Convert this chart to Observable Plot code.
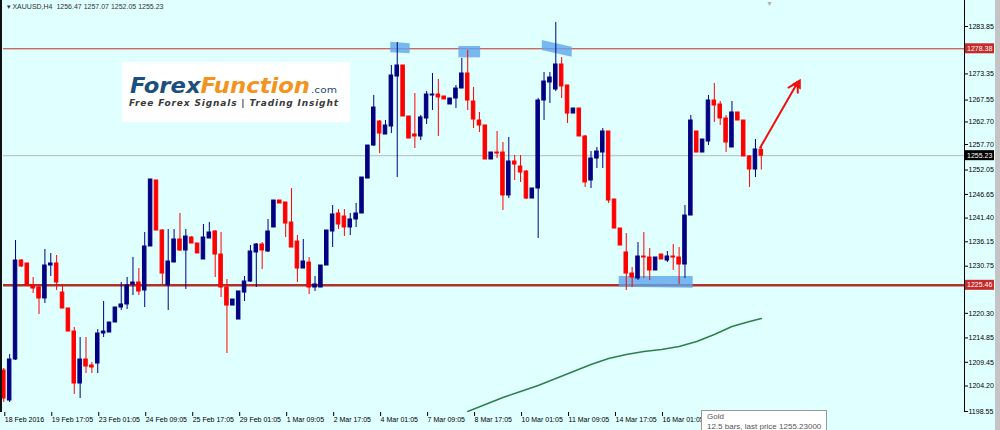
<!DOCTYPE html>
<html><head><meta charset="utf-8">
<script src="https://cdn.jsdelivr.net/npm/d3@7"></script>
<script src="https://cdn.jsdelivr.net/npm/@observablehq/plot@0.6"></script>
<style>
html,body{margin:0;padding:0;background:#e0ffff;}
#wrap{position:relative;width:1000px;height:430px;background:#e0ffff;overflow:hidden;font-family:"Liberation Sans",Arial,sans-serif;}
#chart svg{display:block;}
.leftbar{position:absolute;left:0;top:0;width:2px;height:412px;background:#111;}
.rightstrip{position:absolute;right:0;top:0;width:5px;height:430px;background:#c4c4c4;}
.shift{position:absolute;left:766px;top:0px;font-size:7px;line-height:8px;color:#b0b0b0;}
.logo{position:absolute;left:122px;top:62px;width:228px;height:60px;background:#fff;}
.tip{position:absolute;left:701px;top:410px;width:126px;height:30px;background:#fff;border:1px solid #9a9a9a;font-size:8px;line-height:10px;color:#555;padding:1px 5px;box-sizing:border-box;white-space:nowrap;}
</style>
</head><body>
<div id="wrap">
  <div id="chart"></div>
  <div class="leftbar"></div>
  <div class="rightstrip"></div>
  <div class="shift">▼</div>
  <div class="logo">
    <svg width="228" height="60">
      <text x="8" y="31" font-family="DejaVu Sans" font-weight="bold" font-style="italic" font-size="22" textLength="180" lengthAdjust="spacingAndGlyphs"><tspan fill="#1d4f7c">Forex</tspan><tspan fill="#f39320">Function</tspan></text>
      <text x="189" y="31" font-family="DejaVu Sans" font-size="9" fill="#1d4f7c" textLength="26" lengthAdjust="spacingAndGlyphs">.com</text>
      <text x="7" y="44" font-family="DejaVu Sans" font-weight="bold" font-style="italic" font-size="9" fill="#3a3a3a" textLength="209" lengthAdjust="spacing">Free Forex Signals | Trading Insight</text>
    </svg>
  </div>
  <div class="tip">Gold<br>12.5 bars, last price 1255.23000</div>
</div>
<script>
// ---- XAUUSD H4 candles (price values) ----
const open = [
1207.63,1200.99,1210.07,1232.00,1231.34,1226.47,1226.02,1223.59,1230.90,1231.34,
1224.91,1221.37,1216.27,1204.75,1210.07,1208.74,1209.18,1215.83,1216.05,1218.27,
1221.59,1222.26,1226.69,1227.13,1225.36,1235.11,1249.73,1238.65,1226.47,1231.56,
1236.66,1234.22,1237.10,1235.77,1232.23,1236.88,1238.43,1233.33,1226.02,1222.03,
1218.93,1224.91,1227.35,1233.78,1235.55,1234.00,1239.32,1245.30,1244.86,1240.42,
1236.21,1230.23,1231.56,1226.02,1226.02,1230.90,1238.43,1242.42,1241.75,1239.32,
1241.09,1242.42,1250.17,1257.48,1262.80,1259.92,1261.69,1272.77,1275.21,1263.91,
1259.92,1259.48,1263.47,1268.56,1268.78,1268.34,1266.57,1267.90,1270.11,1273.44,
1267.23,1263.02,1261.92,1254.38,1255.93,1255.93,1246.41,1253.94,1252.83,1251.72,
1245.74,1247.96,1267.45,1271.44,1269.89,1275.43,1270.78,1264.57,1265.68,1259.48,
1249.73,1254.60,1255.93,1260.59,1245.52,1239.09,1233.78,1229.12,1228.02,1232.89,
1232.67,1229.79,1233.33,1232.00,1232.89,1232.67,1231.12,1241.97,1260.59,1255.93,
1258.37,1267.45,1266.57,1263.47,1257.04,1264.80,1263.02,1255.05,1252.17,1256.47];
const high = [
1208.08,1211.18,1236.44,1232.23,1231.34,1228.24,1226.47,1234.44,1233.56,1233.11,
1226.47,1221.37,1217.16,1214.94,1214.94,1209.41,1216.72,1222.92,1218.27,1221.59,
1227.13,1228.24,1232.67,1230.23,1238.21,1249.95,1249.73,1238.87,1238.87,1238.87,
1242.42,1238.87,1237.32,1235.77,1239.98,1240.42,1238.65,1238.21,1227.79,1223.36,
1225.14,1228.46,1235.33,1235.77,1235.99,1241.09,1245.30,1245.30,1244.86,1247.96,
1237.54,1236.66,1232.67,1228.46,1230.90,1238.65,1244.19,1243.30,1243.30,1242.42,
1244.63,1250.39,1257.48,1268.56,1263.02,1263.02,1275.21,1280.30,1275.21,1263.91,
1269.00,1264.13,1269.45,1273.44,1272.11,1268.34,1267.90,1270.78,1276.76,1278.53,
1270.33,1264.80,1261.92,1255.93,1260.59,1258.15,1259.26,1255.27,1255.27,1251.94,
1247.96,1267.90,1273.66,1273.66,1284.74,1276.98,1270.78,1265.68,1265.68,1259.70,
1256.15,1257.04,1261.25,1260.59,1245.52,1239.09,1237.99,1230.45,1235.99,1238.21,
1234.66,1232.67,1233.33,1234.00,1235.55,1234.88,1244.19,1264.13,1260.59,1258.81,
1268.56,1271.22,1267.23,1264.13,1267.23,1264.80,1263.02,1255.27,1258.81,1257.07];
const low = [
1200.54,1200.54,1209.85,1230.45,1226.24,1224.69,1220.04,1222.48,1228.46,1225.36,
1221.37,1216.27,1202.32,1201.43,1206.97,1206.97,1206.97,1214.94,1216.05,1218.27,
1220.93,1221.15,1224.25,1224.25,1221.59,1235.11,1238.65,1226.69,1220.93,1231.56,
1234.00,1225.58,1235.77,1233.56,1232.23,1236.88,1228.24,1223.81,1211.40,1222.03,
1218.93,1222.92,1227.13,1226.02,1230.01,1233.78,1239.32,1244.63,1237.10,1234.88,
1227.13,1230.23,1224.47,1225.14,1226.02,1230.90,1234.88,1238.87,1237.32,1237.54,
1239.32,1242.42,1250.17,1257.26,1255.71,1259.92,1260.14,1250.39,1263.91,1259.03,
1256.82,1258.59,1262.14,1265.24,1259.48,1267.68,1266.57,1265.68,1270.11,1265.24,
1261.25,1260.36,1254.38,1254.38,1254.60,1243.08,1245.74,1249.73,1249.29,1245.52,
1245.74,1236.88,1263.02,1266.79,1269.45,1267.90,1262.36,1264.57,1259.48,1248.18,
1247.96,1252.39,1252.39,1244.63,1239.09,1235.33,1225.36,1226.02,1227.57,1228.02,
1227.57,1229.79,1232.23,1231.56,1229.79,1226.69,1228.02,1241.97,1255.93,1255.93,
1257.48,1262.58,1261.92,1255.93,1257.04,1263.02,1255.05,1248.18,1250.39,1252.05];
const close = [
1201.43,1210.07,1232.00,1230.68,1226.47,1225.80,1223.59,1230.90,1231.34,1227.13,
1221.37,1216.27,1204.75,1210.07,1208.52,1208.30,1215.83,1216.27,1218.27,1221.59,
1222.26,1226.47,1227.13,1225.14,1235.11,1249.95,1238.65,1229.12,1231.78,1236.66,
1234.22,1237.32,1235.77,1233.56,1237.10,1238.21,1233.33,1226.02,1222.03,1223.36,
1225.14,1227.35,1234.00,1235.55,1234.22,1238.43,1245.30,1244.63,1240.20,1234.88,
1230.23,1231.78,1226.02,1226.69,1230.90,1238.65,1242.20,1239.98,1239.32,1241.09,
1242.42,1250.39,1257.48,1265.90,1260.14,1261.92,1272.99,1275.21,1263.91,1259.03,
1259.48,1263.69,1268.78,1268.78,1268.12,1267.68,1267.90,1270.11,1273.44,1267.45,
1263.24,1261.92,1254.38,1255.93,1255.71,1246.41,1253.94,1253.27,1251.50,1245.74,
1247.96,1267.45,1271.66,1272.55,1275.43,1270.56,1264.57,1265.68,1259.48,1249.29,
1254.60,1256.15,1260.59,1245.30,1239.09,1235.33,1229.12,1228.24,1232.89,1232.67,
1229.79,1232.67,1232.23,1232.89,1232.67,1231.12,1241.97,1263.02,1255.93,1258.81,
1267.45,1266.35,1263.47,1258.15,1264.80,1263.02,1255.05,1252.17,1256.60,1255.23];

// moving average (sampled at bar indices)
const maBars   = [79, 82, 85, 88, 91, 94, 97, 100, 103, 106, 109, 112, 115, 118, 121, 124, 127, 129];
const maValues = [1198.55,1200.10,1201.65,1202.98,1204.31,1205.86,1207.41,1208.96,1210.29,1211.18,1211.84,1212.29,1212.95,1214.06,1215.61,1217.38,1218.49,1219.15];

// axis ticks
const yTickValues = [1283.85,1273.35,1267.55,1262.70,1257.70,1252.05,1246.65,1241.40,1236.15,1230.75,1220.30,1214.85,1209.45,1204.20,1198.55];
const xTickBars = [0,8,16,24,32,40,48,56,64,72,80,88,96,104,112];
const xTickLabels = ["18 Feb 2016","19 Feb 17:05","23 Feb 01:05","24 Feb 09:05","25 Feb 17:05","29 Feb 01:05","1 Mar 09:05","2 Mar 17:05","4 Mar 01:05","7 Mar 09:05","8 Mar 17:05","10 Mar 01:05","11 Mar 09:05","14 Mar 17:05","16 Mar 01:05"];

// horizontal levels and price tags
const levelValues = [1278.91, 1226.51];
const levelLabels = ["1278.38", "1225.46"];
const levelWidths = [1, 2.5];
const bidPrice = 1255.23;
const header = "▾ XAUUSD,H4  1256.47 1257.07 1252.05 1255.23";

// highlight zones (bar index, price)
const hlId  = [1,1, 2,2, 3,3, 4,4];
const hlBar = [65.9,69.2, 77.5,81.2, 91.7,96.8, 104.8,117.4];
const hlTop = [1280.37,1280.02, 1279.42,1279.42, 1280.75,1279.26, 1228.46,1228.46];
const hlBot = [1278.02,1277.80, 1276.91,1276.91, 1278.53,1277.05, 1226.09,1225.87];

// arrow
const arrowFrom = [128.8, 1256.97];
const arrowTo   = [135.2, 1271.51];

const xDomain = [-0.05, 163.6];
const yDomain = [1198.33, 1289.61];

const bars = open.map((o, i) => ({i, open: o, high: high[i], low: low[i], close: close[i]}));
const ma = maBars.map((b, k) => ({i: b, v: maValues[k]}));
const hl = hlId.map((id, k) => ({id, x: hlBar[k], hi: hlTop[k], lo: hlBot[k]}));
const levels = levelValues.map((v, k) => ({value: v, label: levelLabels[k], w: levelWidths[k]}));
const col = d => d.close >= d.open ? "#000080" : "#ff0000";

const chart = Plot.plot({
  width: 1000, height: 430,
  marginLeft: 3, marginRight: 36, marginTop: 0, marginBottom: 18,
  x: {domain: xDomain},
  y: {domain: yDomain},
  color: {type: "identity"},
  style: {background: "transparent", fontFamily: "'Liberation Sans', Arial, sans-serif", fontSize: "7px", color: "#000", overflow: "visible"},
  marks: [
    Plot.ruleY([bidPrice], {stroke: "#b9b9b9", strokeWidth: 1}),
    Plot.ruleY(levels.filter(d => d.w === 1), {y: "value", stroke: "#c0302a", strokeWidth: 1}),
    Plot.ruleY(levels.filter(d => d.w !== 1), {y: "value", stroke: "#b0302a", strokeWidth: 2.5}),
    Plot.areaY(hl, {x: "x", y1: "lo", y2: "hi", z: "id", fill: "#5ea6ee", fillOpacity: 0.8}),
    Plot.line(ma, {x: "i", y: "v", stroke: "#2f7f4a", strokeWidth: 1.5, clip: true}),
    Plot.ruleX(bars, {x: "i", y1: "low", y2: "high", stroke: col, strokeWidth: 1}),
    Plot.rect(bars, {x1: d => d.i - 0.3, x2: d => d.i + 0.3, y1: "open", y2: "close", fill: col, stroke: col, strokeWidth: 1}),
    Plot.arrow([{a: arrowFrom, b: arrowTo}], {x1: d => d.a[0], y1: d => d.a[1], x2: d => d.b[0], y2: d => d.b[1], stroke: "#f01010", strokeWidth: 2, headLength: 8}),
    Plot.dot([arrowTo], {x: d => d[0], y: d => d[1], symbol: "triangle", rotate: 30, r: 4, fill: "#f01010", dy: 2}),
    Plot.axisY(yTickValues, {anchor: "right", tickSize: 3, tickPadding: 1, tickFormat: d => d.toFixed(2), label: null, fill: "#000", fontSize: 7}),
    Plot.axisX(xTickBars, {anchor: "bottom", tickSize: 4, tickPadding: 1, tickFormat: d => xTickLabels[xTickBars.indexOf(d)], textAnchor: "start", dx: 1, label: null, fill: "#000", fontSize: 7}),
    Plot.ruleX([xDomain[1]], {stroke: "#000", strokeWidth: 1}),
    Plot.text([header], {text: d => d, frameAnchor: "top-left", dx: 3, dy: 4, textAnchor: "start", lineAnchor: "top", fill: "#333", fontSize: 7})
  ]
});
document.getElementById("chart").appendChild(chart);

// price tags on the right axis, placed through the chart's own y scale
const ys = chart.scale("y");
const tags = [
  {v: levels[0].value, t: levels[0].label, bg: "#c62a2a"},
  {v: bidPrice, t: bidPrice.toFixed(2), bg: "#000"},
  {v: levels[1].value, t: levels[1].label, bg: "#c62a2a"}
];
const g = d3.select(chart).append("g").attr("text-anchor", "start");
for (const tg of tags) {
  const yy = ys.apply(tg.v);
  g.append("rect").attr("x", 965).attr("y", yy - 5).attr("width", 29).attr("height", 10).attr("fill", tg.bg);
  g.append("text").attr("x", 967).attr("y", yy + 2.5).attr("fill", "#fff").attr("font-size", 7)
    .attr("text-anchor", "start")
    .attr("font-family", "'Liberation Sans', Arial, sans-serif").text(tg.t);
}
</script>
</body></html>
